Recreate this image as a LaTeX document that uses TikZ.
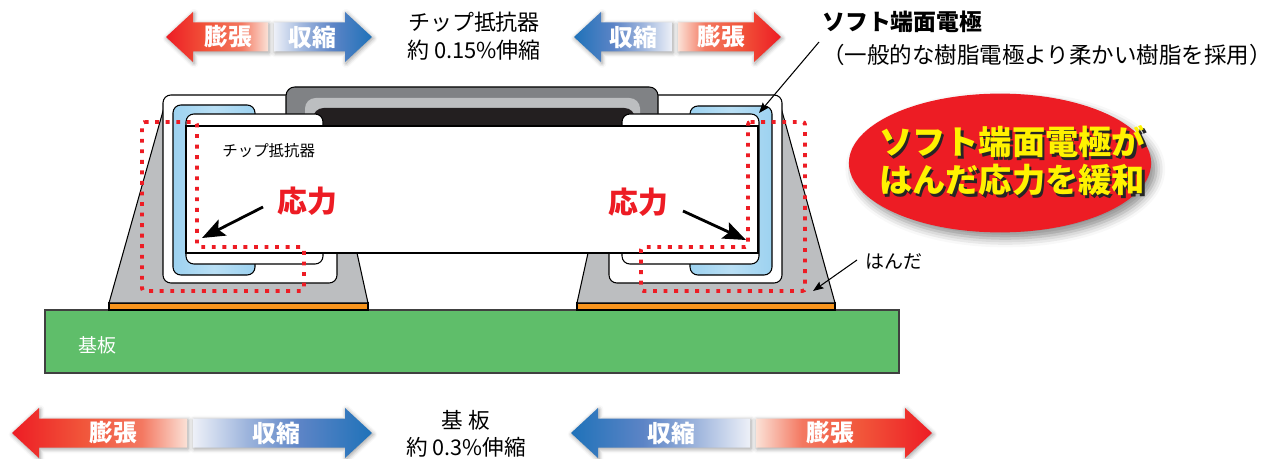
\documentclass[tikz,border=0pt]{standalone}
\usepackage{fontspec}
\setmainfont{Noto Sans CJK JP}
\usetikzlibrary{arrows.meta,shapes.geometric,shadows.blur,calc}

\definecolor{hotred}{HTML}{ED1C24}
\definecolor{warmred}{HTML}{F1553A}
\definecolor{peach}{HTML}{FBE1D6}
\definecolor{ice}{HTML}{EDF0F8}
\definecolor{midblue}{HTML}{5C84C6}
\definecolor{deepblue}{HTML}{1F72B9}
\definecolor{solder}{HTML}{BCBEC0}
\definecolor{padorange}{HTML}{F7941D}
\definecolor{boardgreen}{HTML}{5FBE6A}
\definecolor{coatgray}{HTML}{808285}
\definecolor{coatblack}{HTML}{231F20}
\definecolor{softblue}{HTML}{9DD2F0}
\definecolor{sunyellow}{HTML}{FFF200}

% fades for the expansion / shrink shafts (path box = 25bp..75bp)
\pgfdeclarehorizontalshading{expandfade}{100bp}{color(0bp)=(hotred); color(25bp)=(hotred);
  color(45bp)=(warmred); color(62bp)=(warmred!75!peach); color(75bp)=(peach); color(100bp)=(peach)}
\pgfdeclarehorizontalshading{shrinkfade}{100bp}{color(0bp)=(ice); color(25bp)=(ice);
  color(40bp)=(midblue!55!ice); color(55bp)=(midblue); color(75bp)=(deepblue); color(100bp)=(deepblue)}

% half of a double arrow: tip x, inner x, centre y, shading, shading angle
\newcommand{\halfshaft}[5]{%
  \pgfmathsetmacro\hd{27*sign(#2-#1)}%
  \shade[shading=#4, shading angle=#5,
    blur shadow={shadow xshift=0.6pt, shadow yshift=-0.8pt, shadow blur radius=2.5pt, shadow opacity=40}]
    (#1,#3) -- ++(\hd,-25) -- ++(0,10.5) -- (#2,#3-14.5) -- (#2,#3+14.5)
    -- (#1+\hd,#3+14.5) -- ++(0,10.5) -- cycle;}

\begin{document}
\begin{tikzpicture}[x=0.02cm, y=-0.02cm,
  outline/.style={draw=black, line width=0.6pt},
  resin/.style={left color=softblue, right color=softblue, middle color=softblue!72!white,
                draw=black, line width=0.6pt, rounded corners=4.5pt},
  hotspot/.style={draw=hotred, line width=2.2pt, dash pattern=on 2.2pt off 3.8pt, rounded corners=1.5pt},
  pusharrow/.style={-{Stealth[length=13pt,width=10pt,inset=2.5pt]}, line width=1.6pt},
  leader/.style={-{Stealth[length=6pt,width=4.5pt,inset=1pt]}, line width=0.6pt},
  lbl/.style={font=\fontsize{12.5pt}{16pt}\selectfont, align=center, inner sep=0pt},
  shafttext/.style={text=white, font=\fontsize{13.5pt}{16pt}\selectfont\bfseries, inner sep=0pt},
  stresstext/.style={text=hotred, font=\fontsize{17pt}{20pt}\selectfont\bfseries, inner sep=0pt},
  smalltext/.style={font=\fontsize{10.8pt}{13pt}\selectfont, inner sep=0pt},
  punch/.style={font=\fontsize{18.9pt}{21.5pt}\selectfont\bfseries, align=center, inner sep=0pt}
]
\useasboundingbox (0,0) rectangle (1273,459);

% board and lands
\filldraw[fill=boardgreen, draw=black!75, line width=0.9pt] (45,310) rectangle (899,373);
\filldraw[fill=padorange, outline] (109,303) rectangle (368,310);
\filldraw[fill=padorange, outline] (577,303) rectangle (835,310);

% solder fillets
\filldraw[fill=solder, outline] (109,303) -- (165,104) -- (350,104) -- (357,253) -- (368,303) -- cycle;
\filldraw[fill=solder, outline] (577,303) -- (588,253) -- (595,104) -- (780,104) -- (835,303) -- cycle;

% plating shells
\filldraw[fill=white, outline, rounded corners=4.5pt] (163,95) rectangle (337,283);
\filldraw[fill=white, outline, rounded corners=4.5pt] (609,95) rectangle (782,283);

% overcoat on top of the element
\filldraw[fill=coatgray, outline, rounded corners=5pt] (286,87) rectangle (658,135);
\fill[solder, rounded corners=6pt] (305,98) rectangle (640,135);
\fill[coatblack, rounded corners=6pt] (313,108) rectangle (635,135);

% soft resin electrodes
\shadedraw[resin] (173,105) rectangle (255,275);
\shadedraw[resin] (690,106) rectangle (772,275);

% inner terminations
\filldraw[fill=white, outline, rounded corners=4.5pt] (186,114) rectangle (323,264);
\filldraw[fill=white, outline, rounded corners=4.5pt] (622,114) rectangle (759,264);

% ceramic body
\filldraw[fill=white, outline] (186,126) rectangle (758,253);

% stressed zones
\draw[hotspot] (142,122) -- (197,122) -- (197,247) -- (304,247) -- (304,291) -- (142,291) -- cycle;
\draw[hotspot] (748,122) -- (805,122) -- (805,291) -- (641,291) -- (641,247) -- (748,247) -- cycle;

% labels inside the part
\node[smalltext, font=\fontsize{8.8pt}{11pt}\selectfont, anchor=west] (chipnote) at (222,151) {チップ抵抗器};
\node[stresstext] (stressL) at (307,201) {応力};
\node[stresstext] (stressR) at (638,202) {応力};
\coordinate (stressLfoot) at (263,207);
\coordinate (stressLtip) at (202,238);
\coordinate (stressRfoot) at (683,211);
\coordinate (stressRtip) at (746,240);
\draw[pusharrow] (stressLfoot) -- (stressLtip);
\draw[pusharrow] (stressRfoot) -- (stressRtip);
\node[smalltext, text=white, anchor=west] (boardnote) at (78,345) {基板};

% callouts
\node[lbl] (chipstrain) at (474,36) {チップ抵抗器\\約 0.15\%伸縮};
\node[lbl, align=left, anchor=west, font=\fontsize{12.8pt}{18.7pt}\selectfont] (softnote) at (822,38)
  {\textbf{\fontsize{13pt}{18.7pt}\selectfont ソフト端面電極}\\（一般的な樹脂電極より柔かい樹脂を採用）};
\coordinate (softfoot) at (819,42);
\coordinate (softtip) at (759,113);
\draw[leader] (softfoot) -- (softtip);

\node[smalltext, anchor=west] (soldernote) at (865,262) {はんだ};
\coordinate (solderfoot) at (857,260);
\coordinate (soldertip) at (813,291);
\draw[leader] (solderfoot) -- (soldertip);

\node[lbl, font=\fontsize{12.3pt}{15.3pt}\selectfont] (boardstrain) at (466,434) {基 板\\約 0.3\%伸縮};

% relief badge
\node[ellipse, fill=hotred, minimum width=172pt, minimum height=79pt, inner sep=0pt,
  blur shadow={shadow xshift=3pt, shadow yshift=-3.5pt, shadow blur radius=5pt, shadow opacity=45}]
  (relief) at (1000,163) {};
\node[punch, text=black!85] at (1014.5,163.5) {ソフト端面電極が\\はんだ応力を緩和};
\node[punch, text=sunyellow] (relieftext) at (1012,161) {ソフト端面電極が\\はんだ応力を緩和};

% strain arrows, chip
\halfshaft{166}{268}{37}{expandfade}{0}
\halfshaft{372}{274}{37}{shrinkfade}{0}
\node[shafttext] (chipgrow) at (228,37) {膨張};
\node[shafttext] (chipshrink) at (312,37) {収縮};
\halfshaft{574}{672}{37}{shrinkfade}{180}
\halfshaft{781}{678}{37}{expandfade}{180}
\node[shafttext] (chipshrinkR) at (633,37) {収縮};
\node[shafttext] (chipgrowR) at (721,37) {膨張};

% strain arrows, board
\halfshaft{12}{187}{433}{expandfade}{0}
\halfshaft{372}{193}{433}{shrinkfade}{0}
\node[shafttext] (boardgrow) at (113,433) {膨張};
\node[shafttext] (boardshrink) at (276,433) {収縮};
\halfshaft{571}{750}{433}{shrinkfade}{180}
\halfshaft{932}{756}{433}{expandfade}{180}
\node[shafttext] (boardshrinkR) at (671,433) {収縮};
\node[shafttext] (boardgrowR) at (830,433) {膨張};
\end{tikzpicture}
\end{document}
